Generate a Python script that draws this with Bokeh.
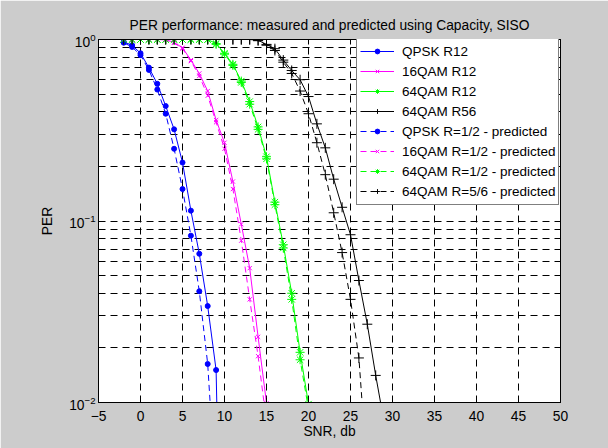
from bokeh.plotting import figure
from bokeh.models import FixedTicker, LinearAxis, LogAxis, CustomJSTickFormatter
from bokeh.embed import file_html
from bokeh.resources import INLINE

# ---------------- data ----------------
qpsk_snr = list(range(-2, 11))
qpsk_meas = [0.97, 0.93, 0.84, 0.70, 0.57, 0.43, 0.32, 0.21, 0.114, 0.066, 0.034, 0.0151, 0.0001]
qpsk_pred = [0.96, 0.91, 0.82, 0.68, 0.53, 0.39, 0.25, 0.15, 0.083, 0.041, 0.0163, 0.003, 0.0001]

q16_snr = list(range(-2, 17))
q16_meas = [1, 1, 1, 1, 1, 0.995, 0.965, 0.90, 0.77, 0.65, 0.52, 0.36, 0.27, 0.165, 0.096, 0.055, 0.023, 0.0099, 0.0001]
q16_pred = [1, 1, 1, 1, 1, 0.995, 0.96, 0.89, 0.76, 0.63, 0.49, 0.35, 0.25, 0.15, 0.078, 0.037, 0.018, 0.0078, 0.0001]

q64_snr = list(range(-2, 22))
q64_meas = [1, 1, 1, 1, 1, 1, 1, 1, 1, 1, 1, 0.95, 0.84, 0.73, 0.59, 0.455, 0.33, 0.226, 0.127, 0.074, 0.040, 0.0189, 0.0098, 0.0001]
q64_pred = [1, 1, 1, 1, 1, 1, 1, 1, 1, 1, 1, 0.94, 0.83, 0.72, 0.58, 0.44, 0.32, 0.22, 0.123, 0.071, 0.037, 0.0172, 0.0092, 0.0001]

q56_snr = list(range(-2, 31))
q56_meas = [1] * 16 + [0.99, 0.94, 0.89, 0.77, 0.675, 0.60, 0.485, 0.343, 0.253, 0.17, 0.119, 0.084, 0.047, 0.027, 0.0141, 0.0078, 0.0001]
q56_pred = [1] * 16 + [0.985, 0.93, 0.87, 0.75, 0.65, 0.52, 0.39, 0.27, 0.18, 0.111, 0.067, 0.037, 0.0176, 0.004, 0.0001, 0.0001, 0.0001]

x_ticks = [-5, 0, 5, 10, 15, 20, 25, 30, 35, 40, 45, 50]
y_ticks = [0.01, 0.1, 1]
y_minor = [0.02, 0.03, 0.04, 0.05, 0.06, 0.07, 0.08, 0.09,
           0.2, 0.3, 0.4, 0.5, 0.6, 0.7, 0.8, 0.9]

title_text = "PER performance: measured and predicted using Capacity, SISO"
x_label = "SNR, db"
y_label = "PER"

FONT = "Liberation Sans"
FS = "13.8px"

p = figure(width=608, height=448, y_axis_type="log",
           x_range=(-5, 50), y_range=(0.01, 1),
           output_backend="svg", toolbar_location=None,
           min_border_left=98, min_border_right=48,
           min_border_top=39, min_border_bottom=46,
           background_fill_color="white", border_fill_color="#CCCCCC",
           outline_line_color="black")

p.title.text = title_text
p.title.align = "center"
p.title.text_font = FONT
p.title.text_font_size = FS
p.title.text_font_style = "normal"
p.title.text_color = "black"
p.title.standoff = 14

xt = FixedTicker(ticks=x_ticks, minor_ticks=[])
yt = FixedTicker(ticks=y_ticks, minor_ticks=y_minor)

for ax in [p.xaxis[0], p.yaxis[0]]:
    ax.major_tick_in = 5
    ax.major_tick_out = 0
    ax.minor_tick_in = 3
    ax.minor_tick_out = 0
    ax.axis_line_color = "black"
    ax.major_tick_line_color = "black"
    ax.minor_tick_line_color = "black"
    ax.major_label_text_font = FONT
    ax.major_label_text_font_size = FS
    ax.major_label_text_color = "black"
    ax.axis_label_text_font = FONT
    ax.axis_label_text_font_size = FS
    ax.axis_label_text_font_style = "normal"
    ax.axis_label_text_color = "black"

p.xaxis[0].ticker = xt
p.yaxis[0].ticker = yt
p.xaxis[0].axis_label = x_label
p.yaxis[0].axis_label = y_label
p.xaxis[0].major_label_standoff = 8
p.xaxis[0].axis_label_standoff = 0
p.yaxis[0].major_label_standoff = 3
p.yaxis[0].axis_label_standoff = 11

blank = CustomJSTickFormatter(code="return ''")
top_ax = LinearAxis(ticker=xt, formatter=blank, major_tick_in=5, major_tick_out=0,
                    minor_tick_out=0, minor_tick_in=0, axis_line_color="black")
right_ax = LogAxis(ticker=yt, formatter=blank, major_tick_in=5, major_tick_out=0,
                   minor_tick_in=3, minor_tick_out=0, axis_line_color="black")
p.add_layout(top_ax, "above")
p.add_layout(right_ax, "right")

grid_dash = "7 5"
p.xgrid.grid_line_color = "black"
p.xgrid.grid_line_dash = grid_dash
p.xgrid.ticker = xt
p.ygrid.grid_line_color = "black"
p.ygrid.grid_line_dash = grid_dash
p.ygrid.minor_grid_line_color = "black"
p.ygrid.minor_grid_line_dash = grid_dash
p.ygrid.ticker = yt

series = [
    ("QPSK R12", qpsk_snr, qpsk_meas, "#0000FF", "solid", "circle", 5),
    ("16QAM R12", q16_snr, q16_meas, "#FF00FF", "solid", "x", 6),
    ("64QAM R12", q64_snr, q64_meas, "#00FF00", "solid", "asterisk", 9),
    ("64QAM R56", q56_snr, q56_meas, "#000000", "solid", "cross", 10),
    ("QPSK R=1/2 - predicted", qpsk_snr, qpsk_pred, "#0000FF", "6 4", "circle", 5),
    ("16QAM R=1/2 - predicted", q16_snr, q16_pred, "#FF00FF", "6 4", "x", 6),
    ("64QAM R=1/2 - predicted", q64_snr, q64_pred, "#00FF00", "6 4", "asterisk", 9),
    ("64QAM R=5/6 - predicted", q56_snr, q56_pred, "#000000", "6 4", "cross", 10),
]

for name, xs, ys, col, dash, mk, sz in series:
    p.line(xs, ys, line_color=col, line_width=1, line_dash=dash, legend_label=name)
    p.scatter(xs, ys, marker=mk, size=sz, line_color=col, fill_color=col,
              line_width=1, legend_label=name)

lg = p.legend[0]
lg.location = (258, 197)
lg.padding = 3
lg.spacing = 0
lg.margin = 0
lg.label_height = 20
lg.glyph_height = 12
lg.glyph_width = 34
lg.label_standoff = 8
lg.label_text_font = FONT
lg.label_text_font_size = "13.5px"
lg.label_text_color = "black"
lg.border_line_color = "black"
lg.border_line_width = 1
lg.background_fill_color = "white"
lg.background_fill_alpha = 1.0

open("out.html", "w").write(file_html(p, INLINE))
